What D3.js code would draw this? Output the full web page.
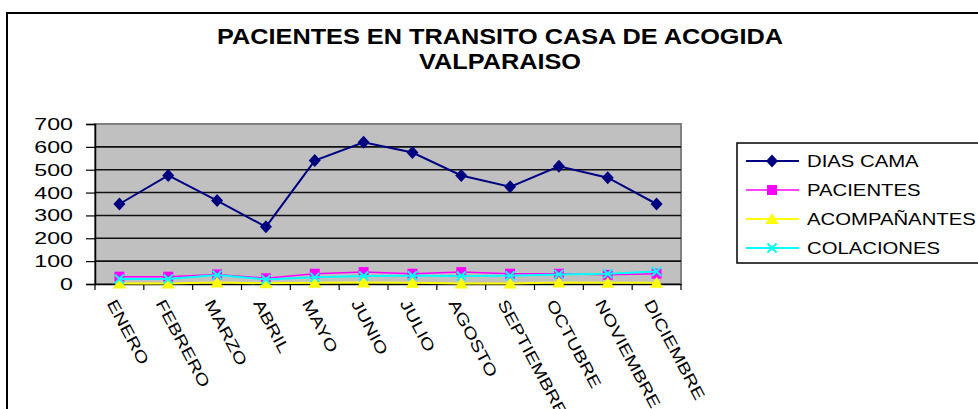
<!DOCTYPE html>
<html>
<head>
<meta charset="utf-8">
<script src="https://cdn.jsdelivr.net/npm/d3@7"></script>
<style>
  html, body { margin: 0; padding: 0; background: #fff; }
  svg { display: block; }
  text { font-family: "Liberation Sans", Arial, sans-serif; }
</style>
</head>
<body>
<svg id="chart" width="978" height="409"></svg>
<script>
// Monthly figures, Casa de Acogida Valparaíso
const months = ["ENERO", "FEBRERO", "MARZO", "ABRIL", "MAYO", "JUNIO",
                "JULIO", "AGOSTO", "SEPTIEMBRE", "OCTUBRE", "NOVIEMBRE", "DICIEMBRE"];
const diasCama     = [350, 475, 365, 250, 540, 620, 575, 475, 425, 515, 465, 350];
const pacientes    = [32, 32, 42, 25, 45, 52, 45, 52, 45, 45, 40, 45];
const acompanantes = [2, 2, 7, 3, 6, 7, 6, 2, 2, 7, 6, 6];
const colaciones   = [22, 22, 39, 20, 29, 35, 36, 35, 36, 42, 45, 55];
const yTicks = [0, 100, 200, 300, 400, 500, 600, 700];
const titleLines = ["PACIENTES EN TRANSITO CASA DE ACOGIDA", "VALPARAISO"];

const series = [
  { name: "DIAS CAMA",    values: diasCama,     color: "#000080", marker: "diamond",  width: 2 },
  { name: "PACIENTES",    values: pacientes,    color: "#FF00FF", marker: "square",   width: 1.5 },
  { name: "ACOMPAÑANTES", values: acompanantes, color: "#FFFF00", marker: "triangle", width: 2 },
  { name: "COLACIONES",   values: colaciones,   color: "#00FFFF", marker: "cross",    width: 2 }
];

const svg = d3.select("#chart");
const plot = { left: 95, right: 681, top: 124, bottom: 284 };

// outer frame
svg.append("rect")
  .attr("x", 7).attr("y", 13).attr("width", 1000).attr("height", 420)
  .attr("fill", "#fff").attr("stroke", "#000").attr("stroke-width", 2);

// title
svg.append("g").selectAll("text").data(titleLines).join("text")
  .attr("transform", (d, i) => `translate(500,${44 + i * 25}) scale(1.15,1)`)
  .attr("text-anchor", "middle")
  .attr("font-size", 22).attr("font-weight", "bold")
  .text(d => d);

const x = d3.scaleBand().domain(months).range([plot.left, plot.right]);
const y = d3.scaleLinear().domain([0, 700]).range([plot.bottom, plot.top]);

// plot background
svg.append("rect")
  .attr("x", plot.left).attr("y", plot.top)
  .attr("width", plot.right - plot.left).attr("height", plot.bottom - plot.top)
  .attr("fill", "#C0C0C0").attr("stroke", "#808080").attr("stroke-width", 2);

// gridlines
svg.append("g").selectAll("line").data(yTicks.filter(v => v > 0 && v < 700)).join("line")
  .attr("x1", plot.left).attr("x2", plot.right)
  .attr("y1", d => y(d)).attr("y2", d => y(d))
  .attr("stroke", "#111").attr("stroke-width", 1.6);

// y axis
const yAxis = svg.append("g")
  .attr("transform", `translate(${plot.left},0)`)
  .call(d3.axisLeft(y).tickValues(yTicks).tickSize(9).tickFormat(""));
yAxis.select(".domain").attr("stroke", "#000").attr("stroke-width", 1.5);
yAxis.selectAll(".tick line").attr("stroke", "#000").attr("stroke-width", 1.2);

svg.append("g").selectAll("text").data(yTicks).join("text")
  .attr("transform", d => `translate(73,${y(d) + 6}) scale(1.45,1)`)
  .attr("text-anchor", "end")
  .attr("font-size", 16)
  .text(d => d);

// x axis with ticks on category boundaries
const xAxis = svg.append("g")
  .attr("transform", `translate(0,${plot.bottom})`)
  .call(d3.axisBottom(x).tickSize(0).tickFormat(""));
xAxis.select(".domain").attr("stroke", "#000").attr("stroke-width", 1.5);
xAxis.append("g").selectAll("line")
  .data(months.map(m => x(m)).concat([plot.right]))
  .join("line")
  .attr("x1", d => d).attr("x2", d => d)
  .attr("y1", 0).attr("y2", 6)
  .attr("stroke", "#000").attr("stroke-width", 1.2);

svg.append("g").selectAll("text").data(months).join("text")
  .attr("transform", d => `translate(${x(d) + x.bandwidth() / 2 - 3},298) rotate(62) scale(1.25,1)`)
  .attr("font-size", 16)
  .attr("dy", "0.7em")
  .text(d => d);

// markers
function drawMarker(g, type, color) {
  if (type === "diamond") {
    g.append("path").attr("d", "M0,-6.5L6,0L0,6.5L-6,0Z").attr("fill", color);
  } else if (type === "square") {
    g.append("rect").attr("x", -5).attr("y", -5).attr("width", 10).attr("height", 10).attr("fill", color);
  } else if (type === "triangle") {
    g.append("path").attr("d", "M0,-6L6.5,5L-6.5,5Z").attr("fill", color);
  } else if (type === "cross") {
    g.append("path").attr("d", "M-4.5,-4.5L4.5,4.5M-4.5,4.5L4.5,-4.5")
      .attr("stroke", color).attr("stroke-width", 2);
  }
}

const line = d3.line()
  .x((d, i) => x(months[i]) + x.bandwidth() / 2)
  .y(d => y(d));

series.forEach(s => {
  const g = svg.append("g");
  g.append("path").datum(s.values)
    .attr("d", line).attr("fill", "none")
    .attr("stroke", s.color).attr("stroke-width", s.width);
  s.values.forEach((v, i) => {
    const mg = g.append("g")
      .attr("transform", `translate(${x(months[i]) + x.bandwidth() / 2},${y(v)})`);
    drawMarker(mg, s.marker, s.color);
  });
});

// legend
const legend = svg.append("g");
legend.append("rect")
  .attr("x", 737).attr("y", 143).attr("width", 300).attr("height", 120)
  .attr("fill", "#fff").attr("stroke", "#000").attr("stroke-width", 1.5);
series.forEach((s, i) => {
  const ly = 161 + i * 29;
  legend.append("line")
    .attr("x1", 746).attr("x2", 799).attr("y1", ly).attr("y2", ly)
    .attr("stroke", s.color).attr("stroke-width", s.width);
  drawMarker(legend.append("g").attr("transform", `translate(772,${ly})`), s.marker, s.color);
  legend.append("text")
    .attr("transform", `translate(807,${ly + 6}) scale(1.27,1)`)
    .attr("font-size", 16)
    .text(s.name);
});
</script>
</body>
</html>
